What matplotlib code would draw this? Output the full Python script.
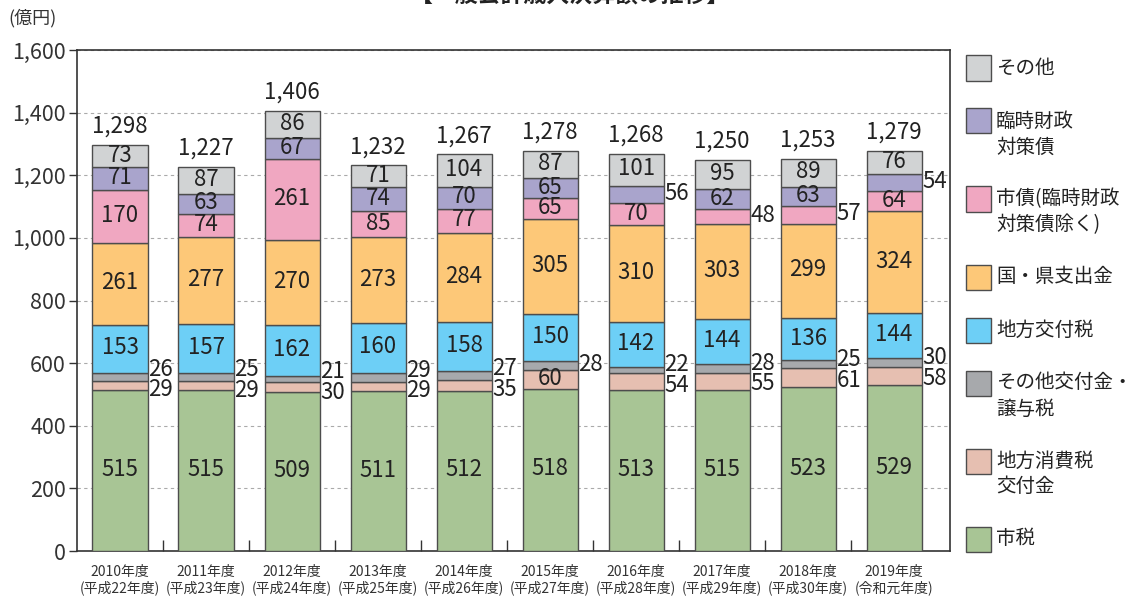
import matplotlib
matplotlib.use('Agg')
import matplotlib.pyplot as plt
from matplotlib.patches import Rectangle
import numpy as np

plt.rcParams['font.family'] = ['Noto Sans CJK JP', 'DejaVu Sans']

# 年度ラベル
years = ['2010年度\n(平成22年度)', '2011年度\n(平成23年度)', '2012年度\n(平成24年度)',
         '2013年度\n(平成25年度)', '2014年度\n(平成26年度)', '2015年度\n(平成27年度)',
         '2016年度\n(平成28年度)', '2017年度\n(平成29年度)', '2018年度\n(平成30年度)',
         '2019年度\n(令和元年度)']

# 下から順に積み上げ (億円)
shizei = [515, 515, 509, 511, 512, 518, 513, 515, 523, 529]
shohizei = [29, 29, 30, 29, 35, 60, 54, 55, 61, 58]
sonota_kofu = [26, 25, 21, 29, 27, 28, 22, 28, 25, 30]
kofuzei = [153, 157, 162, 160, 158, 150, 142, 144, 136, 144]
shishutsu = [261, 277, 270, 273, 284, 305, 310, 303, 299, 324]
shisai = [170, 74, 261, 85, 77, 65, 70, 48, 57, 64]
rinzai = [71, 63, 67, 74, 70, 65, 56, 62, 63, 54]
sonota = [73, 87, 86, 71, 104, 87, 101, 95, 89, 76]
totals = [1298, 1227, 1406, 1232, 1267, 1278, 1268, 1250, 1253, 1279]

series = [shizei, shohizei, sonota_kofu, kofuzei, shishutsu, shisai, rinzai, sonota]
names = ['市税', '地方消費税\n交付金', 'その他交付金・\n譲与税', '地方交付税',
         '国・県支出金', '市債(臨時財政\n対策債除く)', '臨時財政\n対策債', 'その他']
colors = ['#a8c595', '#e6bfb1', '#a7a9ac', '#6dcff6', '#fdc878', '#f0a7c1', '#a9a4cc', '#d1d3d4']

# 棒の外 (右側) に書くラベル: 年度index -> 系列index
outside = {0: [1, 2], 1: [1, 2], 2: [1, 2], 3: [1, 2], 4: [1, 2], 5: [2],
           6: [1, 2, 6], 7: [1, 2, 5], 8: [1, 2, 5], 9: [1, 2, 6]}

W, H = 1132, 603
fig = plt.figure(figsize=(W / 100, H / 100), dpi=100)
ax = fig.add_axes([77 / W, 1 - 551 / H, (950 - 77) / W, (551 - 50) / H])

x = np.arange(len(years))
bw = 0.64
edge = '#4d4d4d'
bottom = np.zeros(len(years))
out_labels = {i: [] for i in range(len(years))}
for si, (vals, c) in enumerate(zip(series, colors)):
    vals = np.array(vals)
    ax.bar(x, vals, bw, bottom=bottom, color=c, edgecolor=edge, linewidth=1, zorder=3)
    for i, v in enumerate(vals):
        yc = bottom[i] + v / 2
        if si in outside[i]:
            out_labels[i].append([yc, v])
        else:
            ax.text(x[i], yc + 3, str(v), ha='center', va='center', fontsize=16,
                    color='#222222', zorder=4)
    bottom = bottom + vals

# 外側ラベルは重ならないように上下に広げる
for i, labs in out_labels.items():
    labs.sort()
    for k in range(len(labs) - 1):
        if labs[k + 1][0] - labs[k][0] < 66:
            mid = (labs[k + 1][0] + labs[k][0]) / 2
            labs[k][0] = mid - 33
            labs[k + 1][0] = mid + 33
    for yc, v in labs:
        ax.text(x[i] + bw / 2 + 0.01, yc + 4, str(v), ha='left', va='center',
                fontsize=16, color='#222222', zorder=4)

for i, t in enumerate(totals):
    ax.annotate(f'{t:,}', (x[i], t), xytext=(0, 5), textcoords='offset points',
                ha='center', va='bottom', fontsize=16, color='#222222')

ax.set_xlim(-0.5, 9.65)
ax.set_ylim(0, 1600)
ax.set_yticks(range(0, 1601, 200))
ax.set_yticklabels([f'{v:,}' for v in range(0, 1601, 200)])
ax.yaxis.grid(True, color='#aaaaaa', linewidth=0.8, linestyle=(0, (3, 3)), zorder=1)
ax.set_axisbelow(True)
ax.tick_params(axis='y', length=6, width=1, pad=2, labelsize=15.5, colors='#333333')

ax.set_xticks(x)
ax.set_xticklabels(years, fontsize=10, linespacing=1.15)
ax.tick_params(axis='x', length=0, pad=10, colors='#333333')
ax.set_xticks(x[:-1] + 0.5, minor=True)
ax.tick_params(axis='x', which='minor', direction='in', length=8, width=1, color='#333333')

for sp in ax.spines.values():
    sp.set_color('#333333')
    sp.set_linewidth(1.2)

# 凡例 (上から)
yc = 68
for name, c in zip(names[::-1], colors[::-1]):
    fig.add_artist(Rectangle((966 / W, 1 - (yc + 12.5) / H), 25 / W, 25 / H,
                             transform=fig.transFigure, facecolor=c, edgecolor=edge, lw=1))
    lines = name.split('\n')
    for k, ln in enumerate(lines):
        fig.text(996 / W, 1 - (yc + 26 * k) / H, ln, ha='left', va='center',
                 fontsize=14, color='#222222')
    yc += 53 + 25 * (len(lines) - 1)

fig.text(570 / W, 1 - 3 / H, '【一般会計歳入決算額の推移】', ha='center', va='baseline',
         fontsize=16.5, fontweight='bold', color='#222222')
fig.text(8 / W, 1 - 18 / H, '(億円)', ha='left', va='center', fontsize=13, color='#333333')

fig.savefig('out.png', dpi=100)
